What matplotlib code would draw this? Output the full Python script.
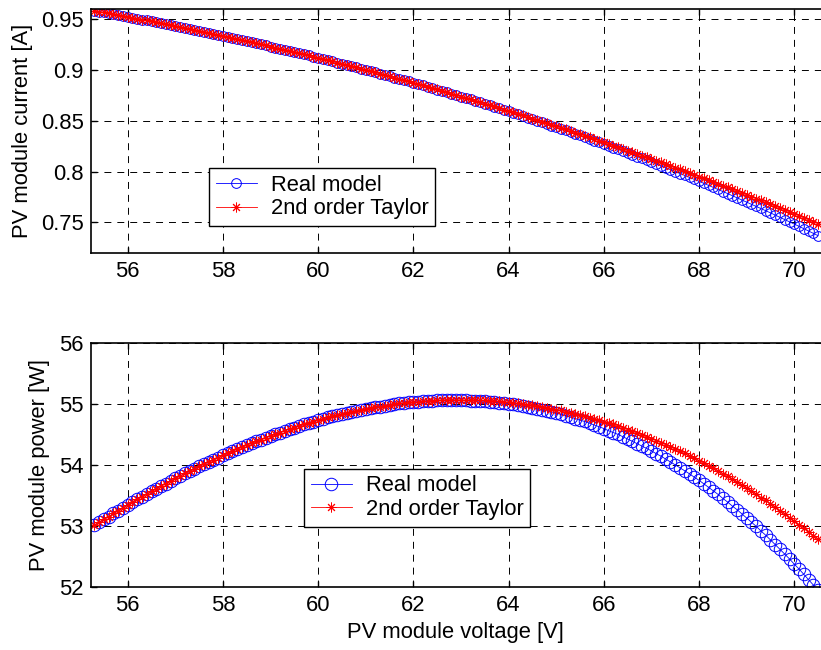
import matplotlib
matplotlib.use('Agg')
import matplotlib.pyplot as plt
import numpy as np
from matplotlib.ticker import FuncFormatter

# PV module voltage sweep [V], 0.1 V step
voltage = np.linspace(55.3, 70.5, 153)

# module current [A]
current_real = [
    0.9586, 0.9577, 0.9569, 0.9560, 0.9552, 0.9543, 0.9534, 0.9526, 0.9517, 0.9508,
    0.9499, 0.9490, 0.9481, 0.9472, 0.9463, 0.9453, 0.9444, 0.9435, 0.9425, 0.9416,
    0.9406, 0.9396, 0.9387, 0.9377, 0.9367, 0.9357, 0.9347, 0.9337, 0.9327, 0.9317,
    0.9307, 0.9296, 0.9286, 0.9276, 0.9265, 0.9254, 0.9244, 0.9233, 0.9222, 0.9211,
    0.9201, 0.9190, 0.9178, 0.9167, 0.9156, 0.9145, 0.9133, 0.9122, 0.9110, 0.9099,
    0.9087, 0.9075, 0.9063, 0.9051, 0.9039, 0.9027, 0.9015, 0.9003, 0.8990, 0.8978,
    0.8965, 0.8953, 0.8940, 0.8927, 0.8915, 0.8902, 0.8889, 0.8875, 0.8862, 0.8849,
    0.8836, 0.8822, 0.8809, 0.8795, 0.8781, 0.8767, 0.8753, 0.8739, 0.8725, 0.8711,
    0.8697, 0.8682, 0.8668, 0.8653, 0.8639, 0.8624, 0.8609, 0.8594, 0.8579, 0.8563,
    0.8548, 0.8533, 0.8517, 0.8502, 0.8486, 0.8470, 0.8454, 0.8438, 0.8422, 0.8406,
    0.8389, 0.8373, 0.8356, 0.8340, 0.8323, 0.8306, 0.8289, 0.8272, 0.8254, 0.8237,
    0.8220, 0.8202, 0.8184, 0.8166, 0.8148, 0.8130, 0.8112, 0.8094, 0.8075, 0.8057,
    0.8038, 0.8019, 0.8000, 0.7981, 0.7962, 0.7943, 0.7923, 0.7904, 0.7884, 0.7864,
    0.7844, 0.7824, 0.7803, 0.7783, 0.7762, 0.7742, 0.7721, 0.7700, 0.7679, 0.7658,
    0.7636, 0.7615, 0.7593, 0.7571, 0.7549, 0.7527, 0.7505, 0.7482, 0.7460, 0.7437,
    0.7414, 0.7391, 0.7368]

current_taylor = [
    0.9586, 0.9577, 0.9569, 0.9560, 0.9552, 0.9543, 0.9534, 0.9526, 0.9517, 0.9508,
    0.9499, 0.9490, 0.9481, 0.9472, 0.9463, 0.9453, 0.9444, 0.9435, 0.9425, 0.9416,
    0.9406, 0.9396, 0.9387, 0.9377, 0.9367, 0.9357, 0.9347, 0.9337, 0.9327, 0.9317,
    0.9307, 0.9296, 0.9286, 0.9276, 0.9265, 0.9254, 0.9244, 0.9233, 0.9222, 0.9211,
    0.9201, 0.9190, 0.9178, 0.9167, 0.9156, 0.9145, 0.9133, 0.9122, 0.9110, 0.9099,
    0.9087, 0.9075, 0.9063, 0.9051, 0.9039, 0.9027, 0.9015, 0.9003, 0.8990, 0.8978,
    0.8965, 0.8953, 0.8940, 0.8927, 0.8915, 0.8902, 0.8889, 0.8875, 0.8862, 0.8849,
    0.8836, 0.8822, 0.8810, 0.8795, 0.8782, 0.8768, 0.8754, 0.8740, 0.8726, 0.8712,
    0.8699, 0.8684, 0.8670, 0.8656, 0.8642, 0.8627, 0.8612, 0.8598, 0.8583, 0.8568,
    0.8553, 0.8538, 0.8523, 0.8508, 0.8493, 0.8478, 0.8462, 0.8447, 0.8432, 0.8416,
    0.8400, 0.8385, 0.8369, 0.8353, 0.8337, 0.8321, 0.8305, 0.8289, 0.8273, 0.8257,
    0.8240, 0.8224, 0.8207, 0.8191, 0.8174, 0.8157, 0.8140, 0.8124, 0.8107, 0.8090,
    0.8073, 0.8056, 0.8038, 0.8021, 0.8004, 0.7986, 0.7969, 0.7951, 0.7933, 0.7916,
    0.7898, 0.7880, 0.7862, 0.7844, 0.7826, 0.7807, 0.7789, 0.7771, 0.7752, 0.7734,
    0.7715, 0.7697, 0.7678, 0.7659, 0.7640, 0.7622, 0.7602, 0.7583, 0.7564, 0.7545,
    0.7526, 0.7506, 0.7487]

labels = ['Real model', '2nd order Taylor']
xticks = [56, 58, 60, 62, 64, 66, 68, 70]
yticks_current = [0.75, 0.8, 0.85, 0.9, 0.95]
yticks_power = [52, 53, 54, 55, 56]

# P = V * I
power_real = voltage * np.array(current_real)
power_taylor = voltage * np.array(current_taylor)

plt.rcParams['font.family'] = ['Liberation Sans', 'DejaVu Sans']
plt.rcParams['font.size'] = 15.8
plt.rcParams['lines.scale_dashes'] = False

fig = plt.figure(figsize=(8.21, 6.5), dpi=100)
ax1 = fig.add_axes([0.1105, 0.6112, 0.8895, 0.3745])
ax2 = fig.add_axes([0.1105, 0.0969, 0.8895, 0.3758])


def style_axes(ax):
    ax.set_xlim(55.223, 70.561)
    ax.set_xticks(xticks)
    ax.grid(True, color='k', linestyle=(0, (5, 4.3)), linewidth=0.7)
    ax.set_axisbelow(True)
    ax.tick_params(direction='in', length=4, width=1, top=True, right=False, pad=5)
    ax.tick_params(axis='x', pad=6)
    ax.spines['right'].set_visible(False)
    for s in ['left', 'top', 'bottom']:
        ax.spines[s].set_linewidth(1.2)
    ax.yaxis.set_major_formatter(FuncFormatter(lambda v, p: '%g' % v))


def add_legend(ax, anchor):
    leg = ax.legend(loc='lower left', bbox_to_anchor=anchor, borderaxespad=0,
                    fancybox=False, framealpha=1, edgecolor='k', handlelength=1.9,
                    handletextpad=0.63, labelspacing=0.12, borderpad=0.3)
    leg.get_frame().set_linewidth(1.0)


# upper plot: current
ax1.plot(voltage, current_real, color='blue', linewidth=0.6, marker='o', markersize=7,
         markerfacecolor='none', markeredgecolor='blue', markeredgewidth=0.7, label=labels[0])
ax1.plot(voltage, current_taylor, color='red', linewidth=0.6, marker=(8, 2, 0), markersize=7,
         markeredgecolor='red', markeredgewidth=0.7, label=labels[1])
style_axes(ax1)
ax1.set_ylim(0.72, 0.96)
ax1.set_yticks(yticks_current)
ax1.set_ylabel('PV module current [A]')
ax1.yaxis.set_label_coords(-0.079, 0.5)
add_legend(ax1, (0.162, 0.11))

# lower plot: power
ax2.plot(voltage, power_real, color='blue', linewidth=0.6, marker='o', markersize=9,
         markerfacecolor='none', markeredgecolor='blue', markeredgewidth=0.7, label=labels[0])
ax2.plot(voltage, power_taylor, color='red', linewidth=0.6, marker=(8, 2, 0), markersize=7,
         markeredgecolor='red', markeredgewidth=0.7, label=labels[1])
style_axes(ax2)
ax2.set_ylim(52, 56)
ax2.set_yticks(yticks_power)
ax2.set_ylabel('PV module power [W]')
ax2.yaxis.set_label_coords(-0.0557, 0.5)
ax2.set_xlabel('PV module voltage [V]', labelpad=4)
add_legend(ax2, (0.292, 0.247))

fig.savefig('out.png', dpi=100)
